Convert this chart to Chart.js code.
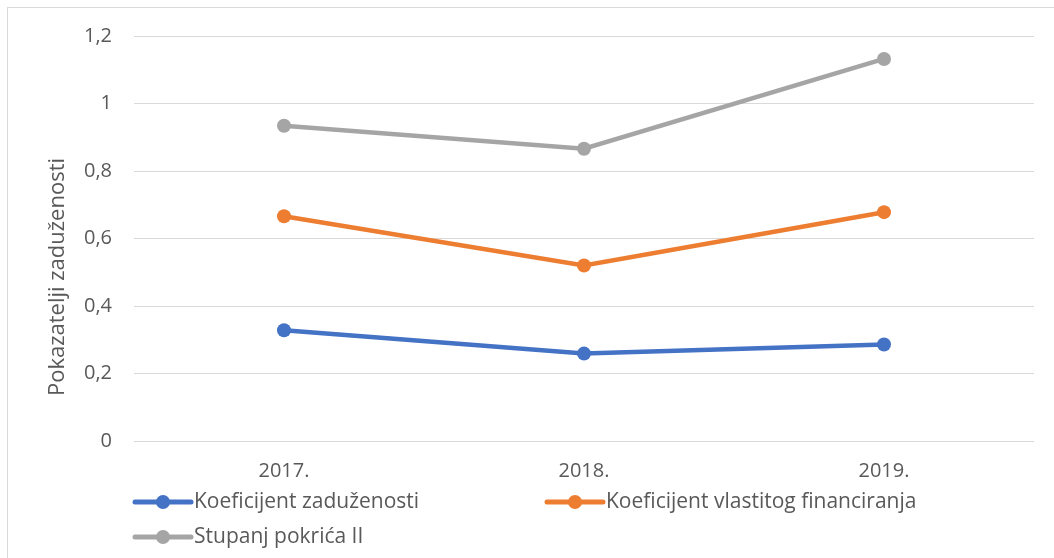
<!DOCTYPE html>
<html>
<head>
<meta charset="utf-8">
<script src="https://cdn.jsdelivr.net/npm/chart.js@4"></script>
<style>
  html, body { margin: 0; padding: 0; background: #fff; }
  #wrap { width: 1054px; height: 558px; }
</style>
</head>
<body>
<div id="wrap"><canvas id="chart" width="1054" height="558"></canvas></div>
<script>
// values
const years = ['2017.', '2018.', '2019.'];
const koefZaduzenosti = [0.328, 0.259, 0.286];
const koefVlastitogFin = [0.666, 0.520, 0.678];
const stupanjPokrica = [0.934, 0.866, 1.132];

const seriesNames = ['Koeficijent zaduženosti', 'Koeficijent vlastitog financiranja', 'Stupanj pokrića II'];
const seriesColors = ['#4472C4', '#ED7D31', '#A5A5A5'];
const yTitle = 'Pokazatelji zaduženosti';

const FONT = '"Open Sans", Lato, sans-serif';
const TEXT = '#595959';

// legend laid out like the Excel one: two columns, left aligned
const legendSlots = [
    { x: 135, y: 502 },
    { x: 547, y: 502 },
    { x: 135, y: 537 }
];

const excelBits = {
    id: 'excelBits',
    beforeDraw(chart) {
        const ctx = chart.ctx;
        ctx.save();
        ctx.fillStyle = '#fff';
        ctx.fillRect(0, 0, chart.width, chart.height);
        ctx.strokeStyle = '#D9D9D9';
        ctx.lineWidth = 1;
        ctx.strokeRect(7.5, 7.5, 1200, 700);
        ctx.restore();
    },
    afterDraw(chart) {
        const ctx = chart.ctx;
        ctx.save();
        ctx.fillStyle = TEXT;

        // y axis title (Excel puts it a bit below the plot centre)
        ctx.save();
        ctx.font = '22px ' + FONT;
        ctx.translate(58, 277);
        ctx.rotate(-Math.PI / 2);
        ctx.textAlign = 'center';
        ctx.textBaseline = 'middle';
        ctx.fillText(yTitle, 0, 0);
        ctx.restore();

        // legend
        ctx.font = '21px ' + FONT;
        chart.data.datasets.forEach((ds, i) => {
            const s = legendSlots[i];
            ctx.strokeStyle = ds.borderColor;
            ctx.lineWidth = 5;
            ctx.lineCap = 'round';
            ctx.beginPath();
            ctx.moveTo(s.x, s.y);
            ctx.lineTo(s.x + 56, s.y);
            ctx.stroke();
            ctx.fillStyle = ds.borderColor;
            ctx.beginPath();
            ctx.arc(s.x + 28, s.y, 7, 0, Math.PI * 2);
            ctx.fill();
            ctx.fillStyle = TEXT;
            ctx.textAlign = 'left';
            ctx.textBaseline = 'middle';
            ctx.fillText(ds.label, s.x + 59, s.y);
        });
        ctx.restore();
    }
};

const seriesData = [koefZaduzenosti, koefVlastitogFin, stupanjPokrica];

new Chart(document.getElementById('chart'), {
    type: 'line',
    data: {
        labels: years,
        datasets: seriesData.map((d, i) => ({
            label: seriesNames[i],
            data: d,
            borderColor: seriesColors[i],
            backgroundColor: seriesColors[i],
            borderWidth: 4.5,
            pointRadius: 7,
            pointHoverRadius: 7,
            pointBorderWidth: 0,
            tension: 0,
            fill: false
        }))
    },
    options: {
        responsive: false,
        animation: false,
        layout: { padding: { left: 0, top: 36, right: 20, bottom: 77 } },
        plugins: {
            legend: { display: false },
            tooltip: { enabled: false }
        },
        scales: {
            x: {
                offset: true,
                grid: { display: false, drawTicks: false },
                border: { display: false },
                ticks: {
                    padding: 18,
                    color: TEXT,
                    font: { family: FONT, size: 20 }
                },
                afterFit(scale) { scale.height = 40; }
            },
            y: {
                min: 0,
                max: 1.2,
                grid: { color: '#D9D9D9', lineWidth: 1, drawTicks: false },
                border: { display: false },
                ticks: {
                    stepSize: 0.2,
                    padding: 22,
                    color: TEXT,
                    font: { family: FONT, size: 20 },
                    callback: v => String(Number(v.toFixed(1))).replace('.', ',')
                },
                afterFit(scale) { scale.width = 134; }
            }
        }
    },
    plugins: [excelBits]
});
</script>
</body>
</html>
